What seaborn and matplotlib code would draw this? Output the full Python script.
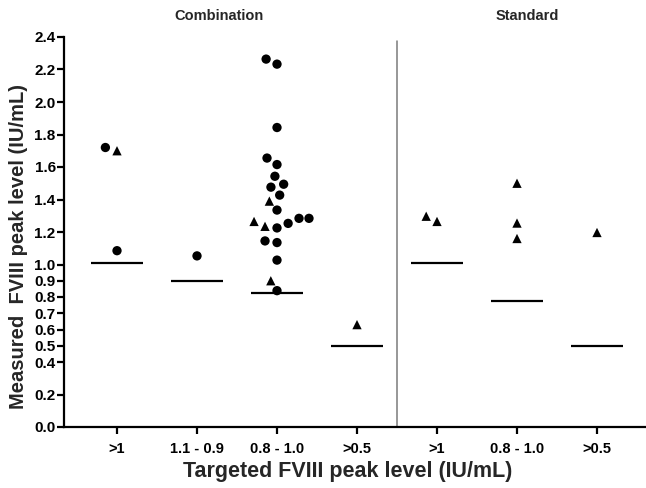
import numpy as np
import pandas as pd
import matplotlib
matplotlib.use("Agg")
import matplotlib.pyplot as plt
from matplotlib.markers import MarkerStyle
import seaborn as sns

# ---------------- data ----------------
categories = ["C >1", "C 1.1 - 0.9", "C 0.8 - 1.0", "C >0.5",
              "S >1", "S 0.8 - 1.0", "S >0.5"]
tick_labels = [">1", "1.1 - 0.9", "0.8 - 1.0", ">0.5", ">1", "0.8 - 1.0", ">0.5"]
panel_titles = ["Combination", "Standard"]
target_lines = [1.01, 0.90, 0.825, 0.50, 1.01, 0.776, 0.50]

comb_gt1_circles = [1.72, 1.085]
comb_gt1_triangles = [1.70]
comb_11_09_circles = [1.053]
comb_11_09_triangles = []
comb_08_10_circles = [2.233, 2.264, 1.843, 1.655, 1.615, 1.543, 1.494, 1.476,
                      1.427, 1.335, 1.284, 1.284, 1.253, 1.225, 1.145, 1.135,
                      1.027, 0.839]
comb_08_10_triangles = [1.39, 1.235, 1.265, 0.90]
comb_gt05_circles = []
comb_gt05_triangles = [0.63]
std_gt1_circles = []
std_gt1_triangles = [1.265, 1.297]
std_08_10_circles = []
std_08_10_triangles = [1.50, 1.255, 1.16]
std_gt05_circles = []
std_gt05_triangles = [1.197]

y_ticks = [0.0, 0.2, 0.4, 0.5, 0.6, 0.7, 0.8, 0.9, 1.0, 1.2, 1.4, 1.6, 1.8,
           2.0, 2.2, 2.4]

groups = [
    (categories[0], comb_gt1_circles, comb_gt1_triangles),
    (categories[1], comb_11_09_circles, comb_11_09_triangles),
    (categories[2], comb_08_10_circles, comb_08_10_triangles),
    (categories[3], comb_gt05_circles, comb_gt05_triangles),
    (categories[4], std_gt1_circles, std_gt1_triangles),
    (categories[5], std_08_10_circles, std_08_10_triangles),
    (categories[6], std_gt05_circles, std_gt05_triangles),
]
rows = []
for cat, circ, tri in groups:
    rows += [(cat, v, "circle") for v in circ]
    rows += [(cat, v, "triangle") for v in tri]
df = pd.DataFrame(rows, columns=["target", "measured", "marker"])

# ---------------- style ----------------
sns.set_style("ticks")
plt.rcParams["font.family"] = ["Liberation Sans", "DejaVu Sans"]
plt.rcParams["font.weight"] = "bold"

fig = plt.figure(figsize=(6.46, 4.88), dpi=100)
ax = fig.add_axes([64 / 646, 1 - 427 / 488, 1 - 64 / 646, (427 - 37) / 488])

# invisible edge widens the swarm spacing without enlarging markers
sns.swarmplot(data=df, x="target", y="measured", order=categories,
              color="black", size=6.7, linewidth=1.6, edgecolor="none", ax=ax)

circle = MarkerStyle("o")
tri = MarkerStyle("^")
cpath = circle.get_path().transformed(circle.get_transform())
tpath = tri.get_path().transformed(tri.get_transform())
for coll in list(ax.collections):
    offs = coll.get_offsets()
    if len(offs) == 0:
        continue
    idx = int(np.round(np.median(offs[:, 0])))
    kinds = df.loc[df["target"] == categories[idx], "marker"].tolist()
    coll.set_paths([cpath if k == "circle" else tpath for k in kinds])
    coll.set_edgecolor("none")

pos = np.arange(len(categories))
ax.hlines(target_lines, pos - 0.325, pos + 0.325, color="black", lw=1.6)
ax.axvline(3.5, ymax=0.99, color="#7a7a7a", lw=1.1)

ax.set_xlim(-0.6625, 6.6125)
ax.set_ylim(0, 2.4)
ax.set_yticks(y_ticks)
ax.set_yticklabels([f"{t:.1f}" for t in y_ticks], fontsize=11, fontweight="bold")
ax.set_xticks(pos)
ax.set_xticklabels(tick_labels, fontsize=10.5, fontweight="bold")

sns.despine(ax=ax)
for s in ["left", "bottom"]:
    ax.spines[s].set_linewidth(1.6)
    ax.spines[s].set_color("black")
ax.tick_params(axis="both", width=1.6, length=5, color="black", labelcolor="black")
ax.tick_params(axis="y", pad=1)
ax.tick_params(axis="x", pad=6)

ax.set_xlabel("Targeted FVIII peak level (IU/mL)", fontsize=15.5, fontweight="bold")
ax.xaxis.set_label_coords(0.488, -0.087)
ax.set_ylabel("Measured  FVIII peak level (IU/mL)", fontsize=14.5, fontweight="bold")
ax.yaxis.set_label_coords(-0.062, 0.464)

fig.text(219 / 646, 1 - 16 / 488, panel_titles[0], ha="center", va="center",
         fontsize=10.5, fontweight="bold")
fig.text(527 / 646, 1 - 16 / 488, panel_titles[1], ha="center", va="center",
         fontsize=10.5, fontweight="bold")

fig.savefig("out.png", dpi=100)
